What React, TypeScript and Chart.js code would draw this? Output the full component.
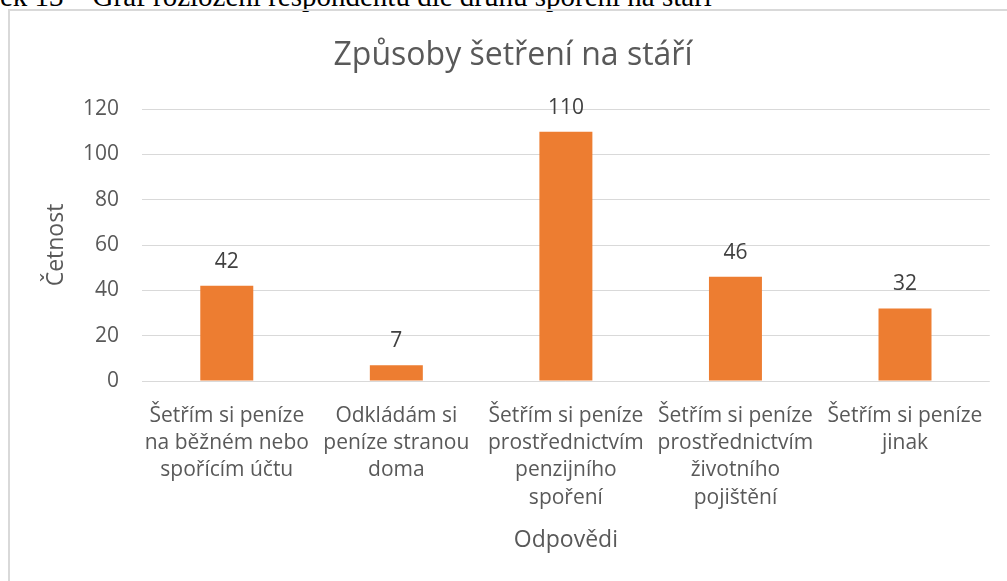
import React, { useEffect, useRef } from "react";
import { Chart, registerables } from "chart.js";

Chart.register(...registerables);

const categories: string[][] = [
  ["Šetřím si peníze", "na běžném nebo", "spořícím účtu"],
  ["Odkládám si", "peníze stranou", "doma"],
  ["Šetřím si peníze", "prostřednictvím", "penzijního", "spoření"],
  ["Šetřím si peníze", "prostřednictvím", "životního", "pojištění"],
  ["Šetřím si peníze", "jinak"],
];
const values: number[] = [42, 7, 110, 46, 32];
const chartTitle = "Způsoby šetření na stáří";
const yTitle = "Četnost";
const xTitle = "Odpovědi";
const caption = "ek 13 – Graf rozložení respondentů dle druhu spoření na stáří";

const FONT = "'Open Sans', 'Noto Sans', sans-serif";

const valueLabels = {
  id: "valueLabels",
  afterDatasetsDraw(chart: any) {
    const ctx = chart.ctx;
    const meta = chart.getDatasetMeta(0);
    ctx.save();
    ctx.font = `21px ${FONT}`;
    ctx.fillStyle = "#404040";
    ctx.textAlign = "center";
    ctx.textBaseline = "middle";
    meta.data.forEach((bar: any, i: number) => {
      ctx.fillText(String(values[i]), bar.x, bar.y - 24);
    });
    ctx.restore();
  },
};

export default function App() {
  const ref = useRef<HTMLCanvasElement>(null);
  useEffect(() => {
    if (!ref.current) return;
    const chart = new Chart(ref.current, {
      type: "bar",
      data: {
        labels: categories,
        datasets: [
          {
            data: values,
            backgroundColor: "#ED7D31",
            categoryPercentage: 1,
            barPercentage: 0.3125,
          },
        ],
      },
      options: {
        animation: false,
        responsive: false,
        maintainAspectRatio: false,
        layout: { padding: { left: 26, right: 16, top: 0, bottom: 0 } },
        plugins: {
          legend: { display: false },
          tooltip: { enabled: false },
          title: {
            display: true,
            text: chartTitle,
            color: "#595959",
            font: { family: FONT, size: 32, weight: "normal", lineHeight: 1.2 },
            padding: { top: 26, bottom: 33.6 },
          },
        },
        scales: {
          x: {
            grid: { display: false, drawTicks: false },
            border: { display: false },
            ticks: {
              color: "#595959",
              font: { family: FONT, size: 21, lineHeight: 1.286 },
              padding: 22,
              autoSkip: false,
              maxRotation: 0,
              minRotation: 0,
            },
            title: {
              display: true,
              text: xTitle,
              color: "#595959",
              font: { family: FONT, size: 23, lineHeight: 1.2 },
              padding: { top: 0, bottom: 27 },
            },
            afterFit(scale: any) {
              scale.height = 200;
            },
          },
          y: {
            min: 0,
            max: 120,
            grid: { color: "#d9d9d9", lineWidth: 1, drawTicks: false },
            border: { display: false },
            ticks: {
              stepSize: 20,
              color: "#595959",
              font: { family: FONT, size: 21 },
              padding: 23,
            },
            title: {
              display: true,
              text: yTitle,
              color: "#595959",
              font: { family: FONT, size: 23, lineHeight: 1.2 },
              padding: { top: 7, bottom: 0 },
            },
            afterFit(scale: any) {
              scale.width = 106;
            },
          },
        },
      },
      plugins: [valueLabels],
    });
    return () => chart.destroy();
  }, []);

  return (
    <div
      style={{
        position: "fixed",
        left: 0,
        top: 0,
        width: 1007,
        height: 581,
        overflow: "hidden",
        background: "#fff",
      }}
    >
      <div
        style={{
          position: "absolute",
          left: 0,
          top: -18,
          fontFamily: "'Liberation Serif', 'Times New Roman', serif",
          fontSize: 29,
          lineHeight: "29px",
          whiteSpace: "nowrap",
          color: "#000",
        }}
      >
        {caption}
      </div>
      <div
        style={{
          position: "absolute",
          left: 8,
          top: 9,
          width: 1001,
          height: 600,
          border: "2px solid #d9d9d9",
          boxSizing: "border-box",
        }}
      />
      <canvas
        ref={ref}
        width={996}
        height={570}
        style={{ position: "absolute", left: 10, top: 11, width: 996, height: 570 }}
      />
    </div>
  );
}
